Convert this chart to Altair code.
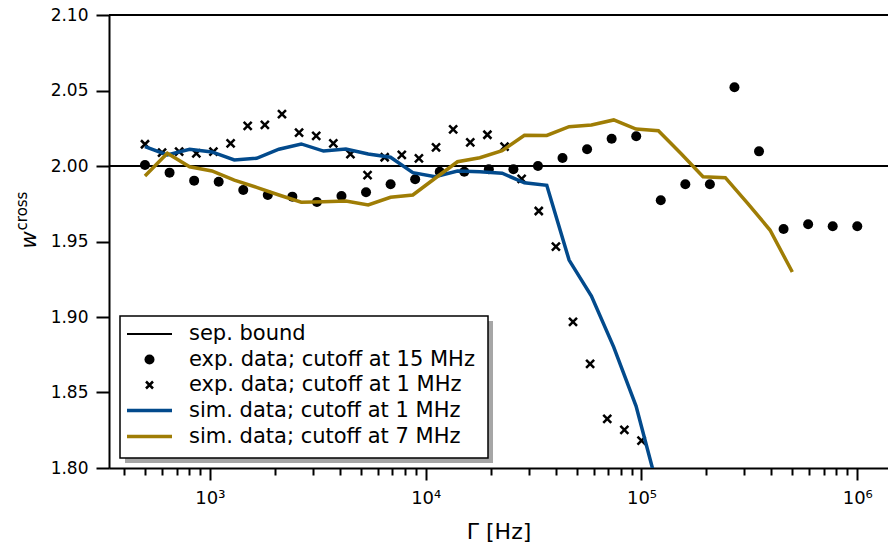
import altair as alt
import pandas as pd

# ---------------- data ----------------
exp15_freq = [500, 650, 845, 1098, 1427, 1854, 2410, 3132, 4070, 5290,
              6875, 8935, 11612, 15091, 19613, 25490, 33129, 43056, 55958, 72725,
              94520, 122840, 159650, 207490, 269660, 350470, 455490, 591980, 769370, 1000000]
exp15_w = [2.0007, 1.9956, 1.9903, 1.9896, 1.9841, 1.9808, 1.9797, 1.9762, 1.9801, 1.9826,
           1.9879, 1.9912, 1.9962, 1.9962, 1.9978, 1.9978, 2.0000, 2.0053, 2.0111, 2.0181,
           2.0197, 1.9773, 1.9879, 1.9879, 2.0521, 2.0097, 1.9583, 1.9614, 1.9601, 1.9601]

exp1_freq = [500, 600, 720, 865, 1038, 1247, 1496, 1797, 2157, 2589,
             3108, 3731, 4478, 5376, 6454, 7747, 9300, 11164, 13403, 16088,
             19314, 23188, 27833, 33413, 40112, 48150, 57798, 69390, 83299, 100000]
exp1_w = [2.0144, 2.0088, 2.0095, 2.0084, 2.0095, 2.0150, 2.0265, 2.0272, 2.0344, 2.0221,
          2.0199, 2.0150, 2.0079, 1.9940, 2.0058, 2.0073, 2.0051, 2.0124, 2.0243, 2.0157,
          2.0207, 2.0128, 1.9914, 1.9702, 1.9466, 1.8967, 1.8689, 1.8325, 1.8252, 1.8181]

sim_freq = [500, 634.5, 805.2, 1021.7, 1296.7, 1645.5, 2087.8, 2649, 3361.6, 4265.8,
            5413, 6869, 8716, 11060, 14036, 17811, 22603, 28679, 36393, 46185,
            58604, 74364, 94364, 119750, 151950, 192820, 244700, 310500, 394010, 500000]
sim1_w = [2.0128, 2.0073, 2.0111, 2.0093, 2.0040, 2.0051, 2.0111, 2.0146, 2.0099, 2.0113,
          2.0079, 2.0058, 1.9956, 1.9929, 1.9967, 1.9962, 1.9952, 1.9889, 1.9872, 1.9377,
          1.9139, 1.8801, 1.8410, 1.7850]
sim7_w = [1.9934, 2.0084, 1.9995, 1.9967, 1.9907, 1.9859, 1.9808, 1.9760, 1.9764, 1.9768,
          1.9742, 1.9793, 1.9808, 1.9919, 2.0028, 2.0055, 2.0101, 2.0204, 2.0202, 2.0260,
          2.0272, 2.0305, 2.0245, 2.0234, 2.0084, 1.9929, 1.9923, 1.9753, 1.9576, 1.9298]

sep_bound = 2.0
y_ticks = [1.80, 1.85, 1.90, 1.95, 2.00, 2.05, 2.10]
x_major = [1e3, 1e4, 1e5, 1e6]
x_minor = [400, 500, 600, 700, 800, 900,
           2000, 3000, 4000, 5000, 6000, 7000, 8000, 9000,
           20000, 30000, 40000, 50000, 60000, 70000, 80000, 90000,
           200000, 300000, 400000, 500000, 600000, 700000, 800000, 900000]

legend_labels = ["sep. bound", "exp. data; cutoff at 15 MHz", "exp. data; cutoff at 1 MHz",
                 "sim. data; cutoff at 1 MHz", "sim. data; cutoff at 7 MHz"]

BLUE = "#024a8c"
GOLD = "#9f7d05"
FONT = "DejaVu Sans"
CROSS = "M-1,-1L1,1M-1,1L1,-1"
LW = 3.5

# ---------------- layout ----------------
W, H = 779, 453
OX, OY = 109, 15          # plot-area origin in the page
XDOM = [340.6, 1.388e6]
YDOM = [1.80, 2.10]

xs = alt.Scale(type="log", domain=XDOM, nice=False)
ys = alt.Scale(domain=YDOM, nice=False, zero=False)

df15 = pd.DataFrame({"f": exp15_freq, "w": exp15_w})
df1 = pd.DataFrame({"f": exp1_freq, "w": exp1_w})
dfs1 = pd.DataFrame({"f": sim_freq[:len(sim1_w)], "w": sim1_w})
dfs7 = pd.DataFrame({"f": sim_freq, "w": sim7_w})
one = pd.DataFrame({"a": [0]})

x_major_axis = alt.Axis(values=x_major, orient="bottom", labelExpr=(
    "datum.value == 1000 ? '10³' : datum.value == 10000 ? '10⁴' : "
    "datum.value == 100000 ? '10⁵' : '10⁶'"),
    title="Γ [Hz]", titleFontSize=22, titleFontWeight="normal", titleColor="black",
    titlePadding=14, labelFontSize=18, labelColor="black", labelPadding=9,
    labelFlush=False, labelOverlap=False, tickSize=12, tickWidth=2, tickColor="black",
    domainWidth=2, domainColor="black", grid=False, labelFont=FONT, titleFont=FONT)
x_minor_axis = alt.Axis(values=x_minor, orient="bottom", labels=False, title=None,
                        domain=False, tickSize=7, tickWidth=2, tickColor="black", grid=False)
y_axis = alt.Axis(values=y_ticks, format=".2f", title=None, labelFontSize=17,
                  labelColor="black", labelPadding=8, tickSize=13, tickWidth=2,
                  tickColor="black", domainWidth=2, domainColor="black", grid=False,
                  labelFont=FONT)

sep = alt.Chart(one).mark_rule(color="black", strokeWidth=2).encode(
    y=alt.Y("v:Q", scale=ys, axis=y_axis)).transform_calculate(v=str(sep_bound))

top = alt.Chart(one).mark_rule(color="black", strokeWidth=2).encode(
    y=alt.value(0))

dots = alt.Chart(df15).mark_point(filled=True, color="black", size=100, opacity=1,
                                  clip=True).encode(
    x=alt.X("f:Q", scale=xs, axis=x_major_axis),
    y=alt.Y("w:Q", scale=ys, axis=y_axis))

crosses = alt.Chart(df1).mark_point(shape=CROSS, filled=False, color="black", size=64,
                                    strokeWidth=2.5, opacity=1, clip=True).encode(
    x=alt.X("f:Q", scale=xs, axis=x_minor_axis),
    y=alt.Y("w:Q", scale=ys, axis=y_axis))

line1 = alt.Chart(dfs1).mark_line(color=BLUE, strokeWidth=LW, clip=True).encode(
    x=alt.X("f:Q", scale=xs, axis=None),
    y=alt.Y("w:Q", scale=ys, axis=y_axis))

line7 = alt.Chart(dfs7).mark_line(color=GOLD, strokeWidth=LW, clip=True).encode(
    x=alt.X("f:Q", scale=xs, axis=None),
    y=alt.Y("w:Q", scale=ys, axis=y_axis))

# ---------------- legend (manual, matplotlib style) ----------------
LX0, LX1, LY0, LY1 = 120 - OX, 488 - OX, 316 - OY, 458 - OY
shadow = alt.Chart(one).mark_rect(color="#a6a6a6").encode(
    x=alt.value(LX0 + 5), x2=alt.value(LX1 + 5), y=alt.value(LY0 + 5), y2=alt.value(LY1 + 5))
box = alt.Chart(one).mark_rect(fill="white", stroke="black", strokeWidth=1.5).encode(
    x=alt.value(LX0), x2=alt.value(LX1), y=alt.value(LY0), y2=alt.value(LY1))

row_y = [v - OY for v in [334, 359.5, 385, 410.5, 436.5]]
SX0, SX1, SXC, TX = 127 - OX, 172 - OX, 149.5 - OX, 189 - OX
leg = [shadow, box]
leg.append(alt.Chart(one).mark_rule(color="black", strokeWidth=2).encode(
    x=alt.value(SX0), x2=alt.value(SX1), y=alt.value(row_y[0])))
leg.append(alt.Chart(one).mark_point(filled=True, color="black", size=100, opacity=1).encode(
    x=alt.value(SXC), y=alt.value(row_y[1])))
leg.append(alt.Chart(one).mark_point(shape=CROSS, filled=False, color="black", size=49,
                                     strokeWidth=2.5, opacity=1).encode(
    x=alt.value(SXC), y=alt.value(row_y[2])))
leg.append(alt.Chart(one).mark_rule(color=BLUE, strokeWidth=LW).encode(
    x=alt.value(SX0), x2=alt.value(SX1), y=alt.value(row_y[3])))
leg.append(alt.Chart(one).mark_rule(color=GOLD, strokeWidth=LW).encode(
    x=alt.value(SX0), x2=alt.value(SX1), y=alt.value(row_y[4])))
for lab, yy in zip(legend_labels, row_y):
    leg.append(alt.Chart(one).mark_text(align="left", baseline="middle", fontSize=21,
                                        font=FONT, color="black").encode(
        x=alt.value(TX), y=alt.value(yy), text=alt.value(lab)))

# ---------------- y title: w^cross ----------------
ytitle_w = alt.Chart(one).mark_text(angle=270, align="center", baseline="alphabetic",
                                    fontSize=21, fontStyle="italic", font=FONT,
                                    color="black").encode(
    x=alt.value(36 - OX), y=alt.value(240 - OY), text=alt.value("w"))
ytitle_c = alt.Chart(one).mark_text(angle=270, align="center", baseline="alphabetic",
                                    fontSize=15, font=FONT, color="black").encode(
    x=alt.value(27 - OX), y=alt.value(211 - OY), text=alt.value("cross"))

chart = alt.layer(
    sep, top, dots, crosses, line1, line7, *leg, ytitle_w, ytitle_c
).resolve_axis(x="independent").properties(
    width=W, height=H,
    autosize=alt.AutoSizeParams(type="none"),
    padding={"left": OX, "top": OY, "right": 0, "bottom": 78},
).configure_view(stroke=None).configure(font=FONT, background="white")

chart.save("out.html", embed_options={"renderer": "svg", "actions": False})
